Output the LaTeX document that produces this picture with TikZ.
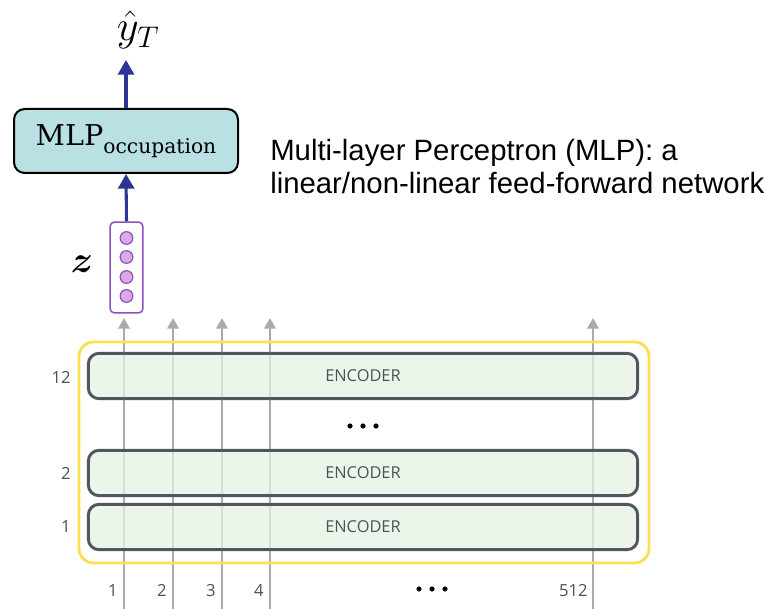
\RequirePackage{fix-cm}
\documentclass[tikz,border=0pt]{standalone}
\usepackage{amsmath,bm}
\usepackage{fontspec}
\setsansfont{Open Sans}
\newfontfamily\arialfont{Liberation Sans}
\newfontfamily\headfont{DejaVu Serif}
\usetikzlibrary{arrows.meta}

\definecolor{encfill}{HTML}{E6F2E1}
\definecolor{encedge}{HTML}{52575D}
\definecolor{enctext}{HTML}{4D5257}
\definecolor{frameyellow}{HTML}{FFE055}
\definecolor{flowgray}{HTML}{A8ABA9}
\definecolor{mlpfill}{HTML}{B9E0E3}
\definecolor{headblue}{HTML}{2D3494}
\definecolor{vecedge}{HTML}{8E4FBF}
\definecolor{vecfill}{HTML}{DDA8E6}

\tikzset{
  encbox/.style={draw=encedge, line width=2.2pt, fill=encfill, fill opacity=0.75,
    text opacity=1, rounded corners=8pt, minimum width=412pt, minimum height=34pt,
    font=\sffamily\fontsize{12.3}{14}\selectfont, text=enctext},
  tokenflow/.style={draw=flowgray, line width=1.9pt,
    -{Triangle[length=8pt,width=8.5pt]}},
  headflow/.style={draw=headblue, line width=2.3pt,
    -{Triangle[length=11pt,width=12pt]}},
  layerlabel/.style={anchor=east, inner sep=0pt, text=enctext,
    font=\sffamily\fontsize{12.5}{14}\selectfont},
  poslabel/.style={anchor=base east, inner sep=0pt, text=enctext,
    font=\sffamily\fontsize{12.5}{14}\selectfont},
  unit/.style={circle, draw=vecedge, line width=0.9pt, fill=vecfill,
    minimum size=9.5pt, inner sep=0pt},
}

\begin{document}
\begin{tikzpicture}[x=0.75pt,y=-0.75pt]
\useasboundingbox (0,0) rectangle (766,609);

% token streams running up through the encoder stack
\foreach \k/\xx in {1/124,2/173,3/222,4/270,512/593}{
  \coordinate (in-\k) at (\xx,609);
  \coordinate (out-\k) at (\xx,318);
  \draw[tokenflow] (in-\k) -- (out-\k);
}

% frame around the stack
\draw[frameyellow, line width=2.2pt, rounded corners=11pt] (79,342) rectangle (649,563);

% encoder layers
\node[encbox] (enc12) at (363,376) {ENCODER};
\node[encbox] (enc2)  at (363,473) {ENCODER};
\node[encbox] (enc1)  at (363,527) {ENCODER};

\node[layerlabel] (l12) at (71,377) {12};
\node[layerlabel] (l2)  at (71,473) {2};
\node[layerlabel] (l1)  at (71,527) {1};

% ellipsis between layers and between positions
\foreach \dx in {-13,0,13}{
  \fill (363+\dx,426) circle (2.6);
  \fill (432+\dx,589) circle (2.6);
}

% position indices
\node[poslabel] (p1)   at (118,596) {1};
\node[poslabel] (p2)   at (167,596) {2};
\node[poslabel] (p3)   at (216,596) {3};
\node[poslabel] (p4)   at (264,596) {4};
\node[poslabel] (p512) at (588,596) {512};

% pooled representation z
\node[draw=vecedge, line width=1.1pt, rounded corners=3pt, fill=white,
      minimum width=24.5pt, minimum height=68pt] (zvec) at (126.5,267.5) {};
\foreach \i/\yy in {1/238,2/257,3/277,4/296}{
  \node[unit] (u\i) at (126.5,\yy) {};
}
\node (zlab) at (82,264) {\fontsize{28}{30}\selectfont$\boldsymbol{z}$};

% classification head
\node[draw=black, line width=1.5pt, fill=mlpfill, rounded corners=8pt,
      minimum width=168pt, minimum height=48pt] (mlp) at (126,141)
      {\headfont\fontsize{21.5}{24}\selectfont MLP\raisebox{-0.3em}{\fontsize{15.2}{17}\selectfont occupation}};

\node (yhat) at (138,30) {\fontsize{32}{36}\selectfont$\hat{y}_T$};
\coordinate (yin) at (126,60);

\draw[headflow] (zvec.north) -- (mlp.south);
\draw[headflow] (mlp.north) -- (yin);

% description
\node[anchor=base west, inner sep=0pt, font=\arialfont\fontsize{22}{26}\selectfont] (desc1)
  at (270,161) {Multi-layer Perceptron (MLP): a};
\node[anchor=base west, inner sep=0pt, font=\arialfont\fontsize{22}{26}\selectfont] (desc2)
  at (270,194) {linear/non-linear feed-forward network};
\end{tikzpicture}
\end{document}
